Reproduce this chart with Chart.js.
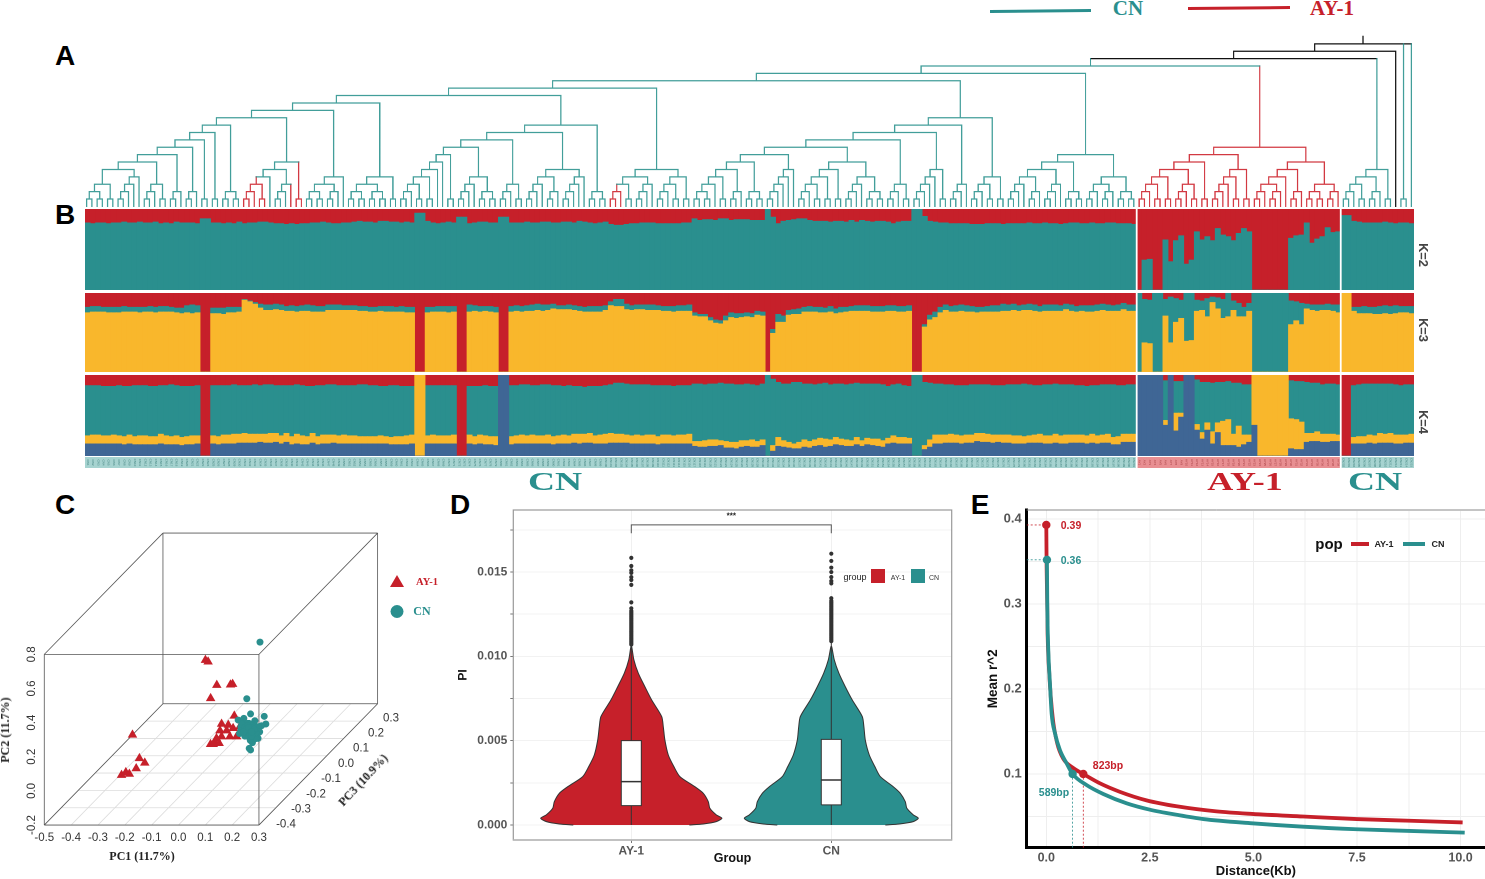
<!DOCTYPE html>
<html><head><meta charset="utf-8">
<script src="https://cdn.jsdelivr.net/npm/chart.js@4"></script>
<style>
html,body{margin:0;padding:0;background:#fff;width:1485px;height:879px;overflow:hidden;font-family:"Liberation Sans",Arial,sans-serif}
canvas{position:absolute;display:block}
.t{position:absolute;white-space:nowrap;transform:translate(-50%,-50%);line-height:1}
.b{position:absolute}
</style></head><body>
<script>
/* ---------- colours ---------- */
const RED='#c6202a',TEAL='#2a8f8e',YEL='#f9b72c',BLUE='#3f6695';

/* ---------- A: dendrogram clades (. = sample, r = red, k = black) ---------- */
const a5=`((((..)(..))(..))((((..).).).))`;
const a6=`(${a5}(((..).)(..)))`;
const a7=`(${a6}((..).))`;
const a8=`(${a7}((..).))`;
const a9=`(${a8}(..))`;
const a10=`(${a9}(..))`;
const a11=`(${a10}((..)(..)))`;
const aRed6=`(((r(((..).)(..)).)(((..).)r.))r(..))`;
const a12=`(${a11}${aRed6})`;
const a13=`(${a12}((((..)(..))((..).)).))`;
const a14=`(${a13}((((..)(..))((..)(..)))(..)))`;

const b4=`((((..).)(..))(..))`;
const b5=`(${b4}.)`;
const b6=`(${b5}.)`;
const b7=`(${b6}(..))`;
const b8=`(${b7}((((..).).)((..)(..))))`;
const b9=`(${b8}(((..).)(..)))`;
const b5c=`(((((..).).)((..).))((((..).).).))`;
const b10=`(${b9}${b5c})`;
const b11=`(${b10}((..)(..)))`;

const c4a=`((r((..).)(..))(((..).).))`;
const c4b=`((((..).)(..))(..))`;
const c5=`(${c4a}${c4b})`;

const d4=`((((..)(..)).)(..))`;
const d5=`(${d4}((..).))`;
const d6=`(${d5}((..)(..)))`;
const d7=`(${d6}(((((..).).).).))`;
const d5c=`(((((..).)(..))(..))(..))`;
const d6c=`(${d5c}((((..).).)((..)(..))))`;
const d8=`(${d7}${d6c})`;
const d9=`(${d8}(((..).)(..)))`;
const d10=`(${d9}(((((..).).).)(..)))`;
const d11=`(${d10}(((..).).))`;
const d12=`(${d11}((((..).)(..))(..)))`;

const e4=`((((..).).)((..).))`;
const e5=`(${e4}(((..).).))`;
const e6=`(${e5}((..)(..)))`;
const e4c=`((((..).)((..).))((..)(..)))`;
const e7=`(${e6}${e4c})`;

const r4=`((((..).)(..))(..))`;
const r5=`(${r4}(((..).)(..)))`;
const r6=`(${r5}(..))`;
const r5c=`(((((..).).)(..))(..))`;
const r7=`(${r6}${r5c})`;
const r5d=`(((((..).)((..).)).)((..).))`;
const r6d=`(${r5d}(((..)(..))((..).)))`;
const r8=`r(${r7}${r6d})`;

const f5=`(((((..).)(..))((..).))(..))`;

const l15=`(${a14}${b11})`;
const l16=`(${l15}${c5})`;
const l17=`(${l16}${d12})`;
const l18=`(${l17}${e7})`;
const l19=`(${l18}${r8})`;
const treeShape=`k(k(k(${l19}${f5})k.)(..).)`;

/* ---------- B: admixture proportions (%) ---------- */
const k2RedCN1=[
17,18,17,17,18,17,17,16,17,17, 16,17,17,16,18,17,18,16,17,17,
17,18,12,12,17,17,18,17,18,16, 18,17,17,16,16,17,18,18,19,18,
19,18,18,17,17,16,17,18,18,17, 17,16,15,16,16,17,15,15,16,16,
17,16,17,5,5,15,17,18,17,16, 17,10,10,18,17,16,16,17,17,10,
10,17,17,17,16,17,17,16,16,17, 17,16,16,17,15,16,17,18,17,16,
19,20,20,19,18,18,17,17,17,18, 18,18,18,18,17,17,12,14,13,13,
14,12,12,14,13,13,13,14,14,14, 0,10,18,15,14,13,12,12,14,15,
15,15,16,15,15,16,14,16,14,15, 16,15,15,16,18,16,15,15,0,0,
9,15,16,17,17,18,18,18,18,19, 19,19,18,18,18,19,18,18,18,18,
17,18,18,17,18,18,19,18,17,17, 18,18,17,18,18,17,17,18,18,18, 19];
const k2RedAY=[100,63,62,100,100,38,65,39,33,68,63,28,38,34,39,24,32,34,39,30,24,28,100,100,100,100,100,100,100,36,33,32,17,42,37,34,23,29,28];
const k2RedCN2=[8,8,15,16,17,17,17,17,16,17,18,17,17,18];

const k3RedCN1=[
18,17,17,18,18,18,18,17,18,18, 18,18,17,18,17,17,18,19,19,16,
15,16,100,100,19,19,19,18,18,18, 8,10,12,14,15,15,14,15,17,16,
17,16,15,16,17,17,15,15,15,16, 16,16,17,17,18,18,17,17,17,18,
17,18,18,100,100,18,18,17,17,17, 17,100,100,15,16,17,17,17,18,100,
100,17,16,17,16,15,14,15,15,14, 16,16,15,16,17,18,17,17,17,16,
11,8,8,14,16,15,15,15,15,16, 17,17,17,16,16,15,25,27,27,31,
34,35,29,25,26,26,25,26,23,24, 100,46,27,29,22,21,20,18,17,18,
18,19,17,20,18,18,17,16,16,16, 17,17,17,16,16,17,17,16,100,100,
40,28,24,18,15,17,16,15,16,17, 18,18,17,16,16,14,15,14,16,15,
14,15,17,15,15,15,16,14,15,17, 16,16,16,15,14,15,16,15,13,15, 15];
const k3RedAY=[0,8,9,0,0,8,5,7,9,0,0,9,10,7,5,6,8,0,10,13,18,13,0,0,0,0,0,0,0,10,11,13,14,15,15,15,14,15,15];
const k3RedCN2=[0,0,18,18,17,18,18,17,16,17,16,17,17,17];

const k3TealCN1=[
7,7,7,6,7,7,7,7,6,6, 7,6,7,7,7,7,6,6,7,9,
11,9,0,0,7,7,8,7,7,6, 1,1,2,5,7,7,7,7,6,7,
7,7,8,8,7,7,7,7,7,6, 6,6,6,6,6,6,6,7,7,6,
7,7,7,0,0,7,6,7,7,8, 7,0,0,9,7,7,6,7,7,0,
0,7,7,7,7,8,8,8,7,6, 5,5,6,6,6,6,7,7,7,6,
5,9,9,7,6,6,6,7,7,6, 6,6,7,7,7,8,4,3,3,4,
4,4,6,6,6,5,5,5,5,5, 0,5,10,8,6,6,7,6,7,6,
7,6,7,6,7,6,6,7,7,7, 7,7,7,7,7,7,7,7,0,0,
3,6,7,7,7,7,8,8,8,7, 7,6,7,8,8,9,8,8,7,7,
8,8,7,8,8,8,7,7,8,7, 7,8,8,8,8,8,7,8,8,8, 8];
const k3TealAY=[100,55,55,100,100,21,58,30,23,61,60,14,12,23,7,14,24,30,12,17,12,10,100,100,100,100,100,100,100,30,24,27,6,7,8,7,8,8,10];
const k3TealCN2=[0,0,5,8,9,8,9,10,10,10,10,8,8,9];

const k4RedCN1=[
13,13,13,14,14,14,13,14,14,13, 13,13,14,14,13,13,12,13,14,14,
14,13,100,100,13,13,13,13,12,13, 13,13,12,13,12,12,13,13,13,13,
12,13,14,14,13,13,12,12,13,13, 13,13,12,12,13,13,14,14,13,13,
14,14,14,0,0,13,13,13,13,13, 13,100,100,14,14,14,13,14,14,0,
0,13,13,12,12,13,13,12,12,13, 13,14,13,14,14,15,14,14,14,13,
12,10,10,11,12,12,12,12,13,13, 13,13,14,13,13,13,11,11,12,11,
11,10,11,11,12,12,11,12,13,11, 0,5,9,11,11,9,9,11,11,12,
11,10,12,11,11,12,11,10,11,11, 11,11,12,14,12,11,13,14,0,0,
9,10,11,11,12,12,13,13,13,12, 12,12,12,13,13,13,12,12,12,11,
12,13,13,12,12,11,12,12,12,13, 13,14,13,13,12,12,12,13,13,12, 12];
const k4RedAY=[0,0,0,0,0,7,0,8,8,0,0,6,9,9,10,9,9,8,10,10,12,12,0,0,0,0,0,0,0,7,8,8,9,10,10,12,11,11,12];
const k4RedCN2=[100,100,13,12,11,11,11,11,11,11,12,13,12,12];

const k4YelCN1=[
10,11,11,10,10,11,10,10,11,10, 11,11,10,10,12,11,10,11,10,10,
11,10,0,0,10,10,11,11,12,11, 12,11,11,10,11,12,11,10,11,10,
12,11,10,12,10,11,11,10,10,11, 10,10,9,9,9,9,10,9,9,10,
10,11,11,100,100,10,11,10,10,10, 11,0,0,11,10,11,11,10,11,0,
0,10,10,11,10,11,10,10,11,10, 10,11,10,11,12,11,12,10,11,12,
12,11,11,10,10,11,10,11,11,10, 11,11,10,11,11,12,6,7,8,8,
8,6,8,7,8,8,7,9,7,7, 0,7,11,8,7,6,8,9,8,8,
9,10,8,9,8,8,7,9,7,8, 8,9,8,7,9,8,8,7,0,0,
5,9,11,11,10,11,10,10,10,10, 10,11,10,10,9,10,10,10,10,9,
9,10,11,10,10,11,10,11,10,10, 10,10,11,10,10,11,9,10,10,10, 10];
const k4YelAY=[0,0,0,0,0,6,0,22,5,0,0,7,8,9,15,12,30,32,14,26,12,9,62,100,100,100,100,100,100,37,37,34,11,10,12,10,10,9,8];
const k4YelCN2=[0,0,8,9,9,10,10,12,11,12,11,11,10,11];

const k4BlueCN1=[
15,15,15,15,15,15,15,14,15,14, 14,14,14,14,15,14,14,14,13,14,
14,15,0,0,15,14,15,15,15,16, 16,16,16,17,16,16,17,15,17,14,
15,14,14,16,14,15,15,16,15,15, 15,15,15,15,15,15,15,15,14,14,
14,14,15,0,0,15,15,15,15,15, 15,0,0,15,14,15,14,14,13,100,
100,14,15,15,15,15,15,15,15,14, 15,15,15,16,15,16,16,15,15,15,
16,16,16,16,15,15,15,15,15,14, 15,15,15,15,15,15,12,11,11,12,
12,13,10,10,9,11,12,11,11,13, 0,6,12,11,10,9,9,11,10,12,
13,11,12,14,13,12,12,14,12,14, 13,12,11,15,16,15,15,15,0,0,
8,11,15,15,16,16,16,15,16,16, 18,17,17,16,17,16,16,15,15,15,
16,16,16,15,15,16,15,15,16,16, 16,15,16,15,16,16,14,14,17,17, 17];
const k4BlueAY=[100,100,100,100,100,38,100,31,48,100,100,32,21,32,15,29,13,13,13,11,14,17,38,0,0,0,0,0,0,9,8,8,17,18,18,17,17,18,18];
const k4BlueCN2=[0,0,15,15,15,16,15,16,16,16,15,15,16,16];

/* ---------- C: PCA ---------- */
const ayPC1=[-.089,-.079,-.015,.036,.044,-.038,-.013,-.424,-.335,-.315,-.347,-.370,-.354,-.341,-.092,-.067,-.098,-.073,-.049,-.092,-.061,-.036,-.111,-.117,-.133,-.101,-.024,-.123];
const ayPC2=[.462,.452,.366,.368,.372,.288,.084,-.078,-.114,-.140,-.173,-.161,-.145,-.155,-.014,-.020,-.053,-.053,-.039,-.088,-.088,-.088,-.098,-.123,-.133,-.127,-.030,-.133];
const ayPC3=[-.1,-.1,-.15,-.15,-.15,-.15,-.05,0,-.1,-.1,-.1,-.15,-.15,-.15,0,0,0,0,0,0,0,0,0,0,0,0,0,0];
const cnPC1=[-.012,.002,.016,.067,.073,.057,.016,.011,.023,.044,-.03,-.009,.032,-.01,0,.01,.02,.03,.04,-.02,-.01,0,.01,.02,.03,.04,.01,.02,.03,-.01,0,.01,.02,.035,.045,-.025,.015,.05,.005,-.02,-.015,-.005,.005,.015,.025,.035,-.005,.005,.015,.025,0,.01,.02,.03,-.01,.02];
const cnPC2=[.364,.134,.045,.031,-.014,-.024,-.166,-.157,-.123,-.098,.009,.019,.005,-.02,-.03,-.01,-.04,-.02,-.05,-.05,-.07,-.08,-.06,-.09,-.07,-.08,-.04,-.02,-.05,-.04,-.06,-.09,-.07,-.10,-.03,-.07,-.11,-.06,-.01,-.03,-.015,-.035,-.045,-.015,-.035,-.065,-.085,-.025,-.075,-.055,-.045,-.035,-.085,-.045,-.06,-.06];
const cnPC3=[.1,0,0,0,0,0,0,0,0,0,0,0,0,0,0,0,0,0,0,0,0,0,0,0,0,0,0,0,0,0,0,0,0,0,0,0,0,0,0,0,0,0,0,0,0,0,0,0,0,0,0,0,0,0,0,0];
const pc1Ticks=[-.5,-.4,-.3,-.2,-.1,0,.1,.2,.3];
const pc2Ticks=[-.2,0,.2,.4,.6,.8];
const pc3Ticks=[-.4,-.3,-.2,-.1,0,.1,.2,.3];

/* ---------- D: PI violins ---------- */
const piLevels=[0,.00006,.0002,.0004,.0006,.00099,.00138,.00188,.00227,.00287,.00346,.00415,.00504,.00583,.00643,.00741,.0082,.009,.00979,.01058];
const piWidthAY=[.29,.36,.425,.453,.425,.393,.385,.36,.318,.243,.213,.185,.168,.16,.152,.102,.068,.035,.013,.002];
const piWidthCN=[.27,.34,.41,.435,.41,.378,.37,.345,.31,.245,.218,.19,.17,.163,.155,.105,.07,.038,.015,.002];
const piBoxAY=[.00115,.00257,.005], piBoxCN=[.00119,.00267,.00508];
const piTopAY=.0107, piTopCN=.0109;
const piOutAY=[.0107,.01078,.01086,.01094,.01102,.0111,.01118,.01126,.01134,.01142,.0115,.01158,.01166,.01174,.01182,.0119,.01198,.01206,.01214,.01222,.0123,.01238,.01246,.01254,.01262,.0127,.01285,.0132,.01424,.01453,.0147,.01495,.0151,.01536,.01584];
const piOutCN=[.0109,.01098,.01106,.01114,.01122,.0113,.01138,.01146,.01154,.01162,.0117,.01178,.01186,.01194,.01202,.0121,.01218,.01226,.01234,.01242,.0125,.01258,.01266,.01274,.01282,.0129,.01298,.01306,.01314,.01322,.0133,.01345,.01433,.01447,.0147,.0150,.01526,.01566,.01609];

/* ---------- E: LD decay ---------- */
const ldXAY=[0,.008,.032,.072,.153,.265,.41,.652,.893,1.295,1.778,2.42,3.146,4.11,4.97,6.2,7.49,8.78,10.05];
const ldYAY=[.393,.344,.265,.218,.167,.136,.118,.107,.1,.089,.079,.069,.062,.056,.053,.05,.047,.045,.043];
const ldXCN=[.016,.024,.048,.088,.129,.209,.33,.491,.635,.973,1.376,1.939,2.5,3.146,3.79,4.97,6.2,7.49,8.78,10.1];
const ldYCN=[.352,.30,.246,.207,.171,.148,.128,.1125,.1,.087,.0765,.0655,.058,.052,.047,.042,.038,.035,.033,.031];

/* ---------- helpers ---------- */
Chart.defaults.animation=false;
Chart.defaults.responsive=false;
Chart.defaults.devicePixelRatio=2;
Chart.defaults.font.family='"Liberation Sans",Arial,sans-serif';
Chart.defaults.plugins.legend.display=false;
Chart.defaults.plugins.tooltip.enabled=false;
Chart.defaults.layout.autoPadding=false;
function mk(x,y,w,h){const c=document.createElement('canvas');c.width=w;c.height=h;c.style.left=x+'px';c.style.top=y+'px';c.style.width=w+'px';c.style.height=h+'px';document.body.appendChild(c);return c}
function T(s,x,y,css){const d=document.createElement('div');d.className='t';d.textContent=s;d.style.left=x+'px';d.style.top=y+'px';d.style.cssText+=';'+(css||'');document.body.appendChild(d);return d}
function L(x1,y1,x2,y2,col,w){const d=document.createElement('div');d.className='b';const len=Math.hypot(x2-x1,y2-y1);d.style.cssText=`left:${x1}px;top:${y1-w/2}px;width:${len}px;height:${w}px;background:${col};transform-origin:0 50%;transform:rotate(${Math.atan2(y2-y1,x2-x1)}rad)`;document.body.appendChild(d)}

/* ---------- A ---------- */
function parseTree(str){let i=0;function node(inh){let col=inh;if(str[i]==='r'){col='r';i++}else if(str[i]==='k'){col='k';i++}
 if(str[i]==='.'){i++;return{leaf:true,col}} i++;const kids=[];while(str[i]!==')'&&i<str.length)kids.push(node(col==='k'?'t':col));i++;return{kids,col}}return node('t')}
const tree=parseTree(treeShape);
let leafN=0;const seg={t:[],r:[],k:[]};
(function lay(n){if(n.leaf){n.x=leafN++;n.lv=0;return}n.kids.forEach(lay);n.x=(n.kids[0].x+n.kids[n.kids.length-1].x)/2;n.lv=Math.max(...n.kids.map(k=>k.lv))+1})(tree);
(function emit(n){if(n.leaf)return;const a=n.kids[0].x,b=n.kids[n.kids.length-1].x;seg[n.col].push({x:a,y:n.lv},{x:b,y:n.lv},{x:NaN,y:NaN});
 n.kids.forEach(k=>{seg[k.col].push({x:k.x,y:k.lv},{x:k.x,y:n.lv},{x:NaN,y:NaN});emit(k)})})(tree);
seg.k.push({x:tree.x,y:tree.lv},{x:tree.x,y:tree.lv+1});
const sc=(o)=>Object.assign({display:false},o);
new Chart(mk(84,30,1329.5,180),{type:'scatter',data:{datasets:[
 {data:seg.t,borderColor:'rgba(40,145,140,.88)'},{data:seg.r,borderColor:'rgba(205,35,45,.9)'},{data:seg.k,borderColor:'#111'}
 ].map(d=>Object.assign(d,{showLine:true,spanGaps:false,pointRadius:0,borderWidth:1.25,tension:0,borderCapStyle:'square'}))},
 options:{layout:{padding:0},scales:{x:sc({type:'linear',min:-.5,max:leafN-.5}),y:sc({type:'linear',min:-.487,max:23.87})}}});

/* ---------- B ---------- */
const cat=(a,b,c)=>[...a,...b,...c];
const nLeft=k2RedCN1.length,nAY=k2RedAY.length,nRight=k2RedCN2.length;
const sampleIds=[];for(let i=0;i<nLeft;i++)sampleIds.push('CN'+(i+1));for(let i=0;i<nAY;i++)sampleIds.push('AY'+(i+1));for(let i=0;i<nRight;i++)sampleIds.push('CN'+(nLeft+i+1));
const k2Red=cat(k2RedCN1,k2RedAY,k2RedCN2),k3Red=cat(k3RedCN1,k3RedAY,k3RedCN2),k3Teal=cat(k3TealCN1,k3TealAY,k3TealCN2),
 k4Red=cat(k4RedCN1,k4RedAY,k4RedCN2),k4Yel=cat(k4YelCN1,k4YelAY,k4YelCN2),k4Blue=cat(k4BlueCN1,k4BlueAY,k4BlueCN2);
const k2Teal=k2Red.map(v=>100-v),k3Yel=k3Red.map((v,i)=>100-v-k3Teal[i]),k4Teal=k4Red.map((v,i)=>Math.max(0,100-v-k4Yel[i]-k4Blue[i]));
const splitLines={id:'split',afterDatasetsDraw(ch){const x=ch.scales.x,c=ch.ctx;c.save();c.fillStyle='#fff';
 [nLeft,nLeft+nAY].forEach(i=>{const p=(x.getPixelForValue(i-1)+x.getPixelForValue(i))/2;c.fillRect(p-.9,0,1.8,ch.height)});c.restore()}};
const BX=84.5,BW=1329.5;
function stack(top,h,series){new Chart(mk(BX,top,BW,h),{type:'bar',plugins:[splitLines],
 data:{labels:sampleIds,datasets:series.map(([d,col])=>({data:d,backgroundColor:col,barPercentage:1,categoryPercentage:1,borderWidth:0}))},
 options:{layout:{padding:0},scales:{x:sc({stacked:true}),y:sc({stacked:true,min:0,max:100})}}})}
stack(209,81,[[k2Teal,TEAL],[k2Red,RED]]);
stack(293,79,[[k3Yel,YEL],[k3Teal,TEAL],[k3Red,RED]]);
stack(375,81,[[k4Blue,BLUE],[k4Yel,YEL],[k4Teal,TEAL],[k4Red,RED]]);
const bandText={id:'bandText',afterDatasetsDraw(ch){const x=ch.scales.x,c=ch.ctx;c.save();c.font='3px "Liberation Sans"';c.textAlign='center';c.textBaseline='middle';
 sampleIds.forEach((s,i)=>{c.save();c.translate(x.getPixelForValue(i),5.5);c.rotate(Math.PI/2);c.fillStyle=(i>=nLeft&&i<nLeft+nAY)?'#a33a3e':'#3f807d';c.fillText(s,0,0);c.restore()});c.restore()}};
new Chart(mk(BX,457,BW,11),{type:'bar',plugins:[bandText,splitLines],
 data:{labels:sampleIds,datasets:[{data:sampleIds.map(()=>1),backgroundColor:sampleIds.map((s,i)=>(i>=nLeft&&i<nLeft+nAY)?'#e88f92':'#a6d3d0'),barPercentage:1,categoryPercentage:1,borderWidth:0}]},
 options:{layout:{padding:0},scales:{x:sc({}),y:sc({min:0,max:1})}}});

const sans='font-family:"Liberation Sans";font-weight:bold;';
const serif='font-family:"Liberation Serif";font-weight:bold;';
[['A',65,56],['B',65,215],['C',65,505],['D',460,505],['E',980,505]].forEach(([s,x,y])=>T(s,x,y,sans+'font-size:28px;color:#000'));
T('K=2',1423,255,sans+'font-size:13px;color:#444;transform:translate(-50%,-50%) rotate(90deg)');
T('K=3',1423,330,sans+'font-size:13px;color:#444;transform:translate(-50%,-50%) rotate(90deg)');
T('K=4',1423,422,sans+'font-size:13px;color:#444;transform:translate(-50%,-50%) rotate(90deg)');
T('CN',555,481,serif+`font-size:25px;color:${TEAL};transform:translate(-50%,-50%) scaleX(1.5)`);
T('AY-1',1245,481,serif+`font-size:25px;color:${RED};transform:translate(-50%,-50%) scaleX(1.44)`);
T('CN',1375,481,serif+`font-size:25px;color:${TEAL};transform:translate(-50%,-50%) scaleX(1.5)`);
L(990,11,1091,10,TEAL,2.8);L(1188,8,1290,7,RED,2.8);
T('CN',1128,8,serif+`font-size:21px;color:${TEAL}`);
T('AY-1',1332,8,serif+`font-size:21px;color:${RED}`);

/* ---------- C ---------- */
const U=(a,c)=>a+.6318*(c+.4),V=(b,c)=>b+1.015*(c+.4);
const P=(a,b,c)=>({x:U(a,c),y:V(b,c)});
const BRK={x:NaN,y:NaN};
const gridPts=[];pc1Ticks.forEach(a=>gridPts.push(P(a,-.2,-.4),P(a,-.2,.3),BRK));pc3Ticks.forEach(c=>gridPts.push(P(-.5,-.2,c),P(.3,-.2,c),BRK));
const a0=-.5,a1_=.3,b0=-.2,b1_=.8,c0=-.4,c1_=.3;
const boxEdges=[[a0,b0,c0,a1_,b0,c0],[a1_,b0,c0,a1_,b1_,c0],[a1_,b1_,c0,a0,b1_,c0],[a0,b1_,c0,a0,b0,c0],[a0,b0,c1_,a1_,b0,c1_],[a1_,b0,c1_,a1_,b1_,c1_],[a1_,b1_,c1_,a0,b1_,c1_],[a0,b1_,c1_,a0,b0,c1_],[a0,b0,c0,a0,b0,c1_],[a1_,b0,c0,a1_,b0,c1_],[a1_,b1_,c0,a1_,b1_,c1_],[a0,b1_,c0,a0,b1_,c1_]];
const boxPts=[];boxEdges.forEach(e=>boxPts.push(P(e[0],e[1],e[2]),P(e[3],e[4],e[5]),BRK));
const pcaLabels={id:'pcaLabels',afterDraw(ch){const c=ch.ctx,x=ch.scales.x,y=ch.scales.y;c.save();c.font='11.5px "Liberation Sans"';c.fillStyle='#333';c.textAlign='center';c.textBaseline='middle';
 const fmt=v=>(Math.abs(v)<1e-9?'0.0':v.toFixed(1));
 pc1Ticks.forEach(a=>{const p=P(a,-.2,-.4);c.fillText(fmt(a),x.getPixelForValue(p.x),y.getPixelForValue(p.y)+13)});
 pc2Ticks.forEach(b=>{const p=P(-.5,b,-.4);c.save();c.translate(x.getPixelForValue(p.x)-12.5,y.getPixelForValue(p.y));c.rotate(-Math.PI/2);c.fillText(fmt(b),0,0);c.restore()});
 pc3Ticks.forEach((v,i)=>{c.fillText(fmt(v),286+15*i,304.5-15.2*i)});c.restore()}};
new Chart(mk(0,520,450,359),{type:'scatter',plugins:[pcaLabels],data:{datasets:[
 {data:ayPC1.map((a,i)=>P(a,ayPC2[i],ayPC3[i])),backgroundColor:RED,pointStyle:'triangle',pointRadius:5.5,borderWidth:0,order:2},
 {data:cnPC1.map((a,i)=>P(a,cnPC2[i],cnPC3[i])),backgroundColor:TEAL,pointStyle:'circle',pointRadius:3.5,borderWidth:0,order:1},
 {data:boxPts,showLine:true,spanGaps:false,pointRadius:0,borderColor:'#555',borderWidth:.8,order:3},
 {data:gridPts,showLine:true,spanGaps:false,pointRadius:0,borderColor:'#dcdcdc',borderWidth:.8,order:4}]},
 options:{layout:{padding:0},scales:{x:sc({type:'linear',min:-.665,max:1.012}),y:sc({type:'linear',min:-.516,max:1.587})}}});
const sv=document.createElementNS('http://www.w3.org/2000/svg','svg');sv.setAttribute('style','position:absolute;left:385px;top:570px;width:25px;height:55px');
sv.innerHTML=`<polygon points="12,5 19,17 5,17" fill="${RED}"/><circle cx="12" cy="41.5" r="6.5" fill="${TEAL}"/>`;document.body.appendChild(sv);
T('AY-1',427,582,serif+`font-size:10.5px;color:${RED}`);
T('CN',422,611,serif+`font-size:12px;color:${TEAL}`);
T('PC1 (11.7%)',142,856,serif+'font-size:12px;color:#222');
T('PC2 (11.7%)',5,730,serif+'font-size:12px;color:#222;transform:translate(-50%,-50%) rotate(-90deg)');
T('PC3 (10.9%)',363,780,serif+'font-size:12px;color:#222;transform:translate(-50%,-50%) rotate(-47deg)');

/* ---------- D ---------- */
const violin=(cx,w)=>[...piLevels.map((l,i)=>({x:cx+w[i],y:l})),...piLevels.map((l,i)=>({x:cx-w[i],y:l})).reverse()];
const boxRect=(cx,b)=>[{x:cx-.05,y:b[0]},{x:cx+.05,y:b[0]},{x:cx+.05,y:b[2]},{x:cx-.05,y:b[2]},{x:cx-.05,y:b[0]}];
const vDs=(d,col,o,extra)=>Object.assign({data:d,showLine:true,spanGaps:false,pointRadius:0,borderColor:'#333',borderWidth:1,backgroundColor:col,order:o},extra||{});
const dLabels={id:'dLabels',afterDraw(ch){const c=ch.ctx,x=ch.scales.x,y=ch.scales.y,a=ch.chartArea;c.save();c.font='bold 8px "Liberation Sans"';c.fillStyle='#222';c.textAlign='center';c.textBaseline='middle';
 c.fillText('***',x.getPixelForValue(1.5),y.getPixelForValue(.0183));
 c.strokeStyle='#999';c.lineWidth=1.2;c.strokeRect(a.left,a.top,a.width,a.height);
 c.strokeStyle='#bbb';c.lineWidth=1.8;c.beginPath();c.moveTo(a.left,a.bottom);c.lineTo(a.right,a.bottom);c.stroke();c.restore()}};
const major=(v,s)=>Math.abs(v/s-Math.round(v/s))<1e-6;
new Chart(mk(450,500,520,379),{type:'scatter',plugins:[dLabels],data:{datasets:[
 vDs(piOutAY.map(v=>({x:1,y:v})),'#333',1,{showLine:false,pointRadius:1.6}),
 vDs(piOutCN.map(v=>({x:2,y:v})),'#333',1,{showLine:false,pointRadius:1.6}),
 vDs([{x:.95,y:piBoxAY[1]},{x:1.05,y:piBoxAY[1]}],'#333',2,{borderWidth:1.5}),
 vDs([{x:1.95,y:piBoxCN[1]},{x:2.05,y:piBoxCN[1]}],'#333',2,{borderWidth:1.5}),
 vDs(boxRect(1,piBoxAY),'#fff',3,{fill:'shape'}),
 vDs(boxRect(2,piBoxCN),'#fff',3,{fill:'shape'}),
 vDs([{x:1,y:0},{x:1,y:piTopAY}],'#333',4),
 vDs([{x:2,y:0},{x:2,y:piTopCN}],'#333',4),
 vDs(violin(1,piWidthAY),RED,5,{fill:'shape',tension:.25}),
 vDs(violin(2,piWidthCN),TEAL,5,{fill:'shape',tension:.25}),
 vDs([{x:1,y:.0173},{x:1,y:.0178},{x:2,y:.0178},{x:2,y:.0173}],'#555',1,{borderColor:'#555'})]},
 options:{layout:{padding:{top:10,right:18.3,bottom:13,left:0}},scales:{
  x:{type:'linear',min:.41,max:2.602,afterFit:s=>{s.height=26},grid:{color:'#f0f0f0',drawTicks:true,tickLength:3,tickColor:'#777'},border:{display:false},
   ticks:{stepSize:1,padding:1,autoSkip:false,includeBounds:false,maxRotation:0,color:'#555',font:{size:12,weight:'bold'},callback:v=>v===1?'AY-1':v===2?'CN':''},
   title:{display:true,text:'Group',color:'#111',font:{size:12.5,weight:'bold'},padding:0}},
  y:{type:'linear',min:-.00089,max:.01868,afterFit:s=>{s.width=63.3;s.paddingTop=0;s.paddingBottom=0},grid:{color:'#f2f2f2',tickLength:3,tickColor:'#777'},border:{display:false},
   ticks:{stepSize:.0025,padding:3,autoSkip:false,includeBounds:false,color:'#555',font:{size:12,weight:'bold'},callback:v=>major(v,.005)?v.toFixed(3):''},
   title:{display:true,text:'PI',color:'#111',font:{size:12,weight:'bold'},padding:{top:6,bottom:0}}}}}});
T('group',855,577,'font-size:9px;color:#222');
L(871,576,885,576,RED,14);L(911,576,925,576,TEAL,14);
T('AY-1',898,577,'font-size:7px;color:#333');T('CN',934,577,'font-size:7px;color:#333');

/* ---------- E ---------- */
const z=(xs,ys)=>xs.map((x,i)=>({x,y:ys[i]}));
const lineOpt=(d,col,w,o,extra)=>Object.assign({data:d,showLine:true,pointRadius:0,borderColor:col,backgroundColor:col,borderWidth:w,order:o,tension:0},extra||{});
const dash={borderDash:[2,2]};
const eTop={id:'eTop',afterDraw(ch){const c=ch.ctx,a=ch.chartArea;c.save();c.fillStyle='#888';c.fillRect(a.left,a.top-.5,190,1);c.fillStyle='#c4c4c4';c.fillRect(a.left+190,a.top-1,a.width,2);c.restore()}};
new Chart(mk(970,500,515,379),{type:'scatter',plugins:[eTop],data:{datasets:[
 {data:[{x:ldXCN[0],y:ldYCN[0]},{x:ldXCN[8],y:ldYCN[8]}],backgroundColor:TEAL,pointRadius:4.2,borderWidth:0,order:1},
 {data:[{x:ldXAY[0],y:ldYAY[0]},{x:ldXAY[8],y:ldYAY[8]}],backgroundColor:RED,pointRadius:4.2,borderWidth:0,order:3},
 lineOpt(z(ldXCN,ldYCN),TEAL,3.8,2,{cubicInterpolationMode:'monotone'}),
 lineOpt(z(ldXAY,ldYAY),RED,3.8,4,{cubicInterpolationMode:'monotone'}),
 lineOpt([{x:-.473,y:ldYAY[0]},{x:ldXAY[0],y:ldYAY[0]}],RED,.8,5,dash),
 lineOpt([{x:-.473,y:ldYCN[0]},{x:ldXCN[0],y:ldYCN[0]}],TEAL,.8,5,dash),
 lineOpt([{x:ldXAY[8],y:.0133},{x:ldXAY[8],y:ldYAY[8]}],RED,.8,5,dash),
 lineOpt([{x:ldXCN[8],y:.0133},{x:ldXCN[8],y:ldYCN[8]}],TEAL,.8,5,dash)]},
 options:{layout:{padding:{top:10,right:0,bottom:0,left:0}},scales:{
  x:{type:'linear',min:-.473,max:10.59,afterFit:s=>{s.height=31.3;s.paddingLeft=0;s.paddingRight=0},grid:{color:'#eeeeee',drawTicks:false},border:{display:true,color:'#000',width:3},
   ticks:{stepSize:1.25,padding:3,autoSkip:false,includeBounds:false,maxRotation:0,color:'#555',font:{size:12.5,weight:'bold'},callback:v=>major(v,2.5)?v.toFixed(1):''},
   title:{display:true,text:'Distance(Kb)',color:'#111',font:{size:13,weight:'bold'},padding:0}},
  y:{type:'linear',min:.0133,max:.4106,afterFit:s=>{s.width=56.7;s.paddingTop=0;s.paddingBottom=0},grid:{color:'#eeeeee',drawTicks:false},border:{display:true,color:'#000',width:3},
   ticks:{stepSize:.05,padding:5,autoSkip:false,includeBounds:false,color:'#555',font:{size:13,weight:'bold'},callback:v=>major(v,.1)?v.toFixed(1):''},
   title:{display:true,text:'Mean r^2',color:'#111',font:{size:13.5,weight:'bold'},padding:{top:15,bottom:0}}}}}});
const ann=sans+'font-size:10.5px;';
T('0.39',1071,525,ann+`color:${RED}`);T('0.36',1071,560,ann+`color:${TEAL}`);
T('823bp',1108,765,ann+`color:${RED}`);T('589bp',1054,792,ann+`color:${TEAL}`);
T('pop',1329,543,'font-size:15px;font-weight:bold;color:#111');
L(1351,544,1369,544,RED,3.4);L(1403,544,1425,544,TEAL,3.4);
T('AY-1',1384,544,sans+'font-size:9px;color:#222');T('CN',1438,544,sans+'font-size:9px;color:#222');
</script>
</body></html>
